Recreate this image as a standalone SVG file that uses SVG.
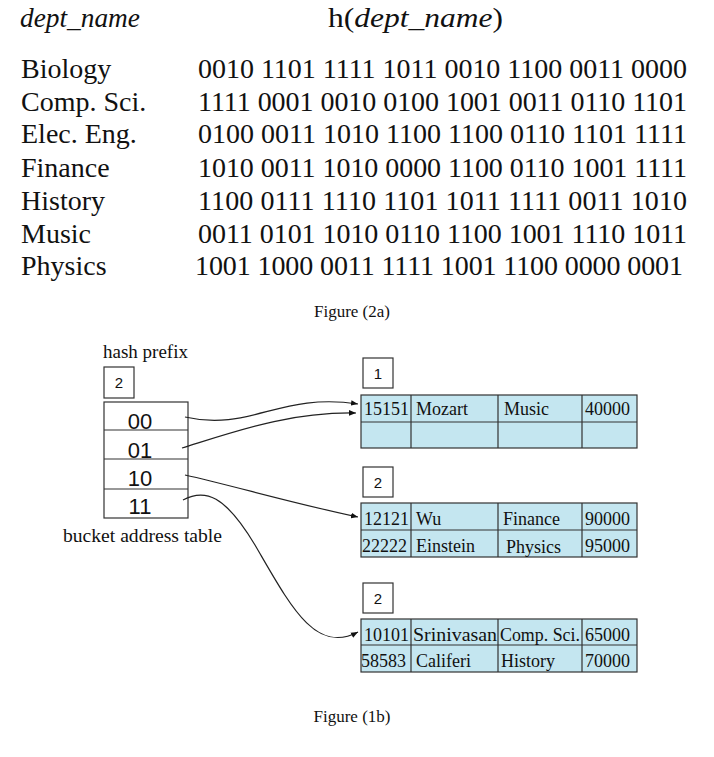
<svg xmlns="http://www.w3.org/2000/svg" width="714" height="757" viewBox="0 0 714 757">
<style>
.serif{font-family:"Liberation Serif","Times New Roman",serif;fill:#111}
.sans{font-family:"Liberation Sans",Arial,sans-serif;fill:#111}
.big{font-size:28px}
.bin{font-size:28px}
.cell{font-size:18px}
.lbl{font-size:18px}
.box{fill:#fff;stroke:#333;stroke-width:1.2}
.tbl{fill:#c4e6f0;stroke:#333;stroke-width:1.2}
.grid{stroke:#333;stroke-width:1.2;fill:none}
.conn{fill:none;stroke:#222;stroke-width:1.2}
</style>
<defs>
<marker id="ah" viewBox="0 0 10 10" refX="10" refY="5" markerWidth="7" markerHeight="7" orient="auto" markerUnits="userSpaceOnUse">
<path d="M0,1 L10,5 L0,9 z" fill="#111"/>
</marker>
</defs>
<rect width="714" height="757" fill="#fff"/>

<g id="fig2a">
<text class="serif big" x="20" y="27" font-style="italic" textLength="120" lengthAdjust="spacingAndGlyphs">dept_name</text>
<text class="serif big" x="328" y="27" textLength="175" lengthAdjust="spacingAndGlyphs">h(<tspan font-style="italic">dept_name</tspan>)</text>
<text class="serif big" x="21" y="78">Biology</text>
<text class="serif big" x="21" y="111">Comp. Sci.</text>
<text class="serif big" x="21" y="143">Elec. Eng.</text>
<text class="serif big" x="21" y="177">Finance</text>
<text class="serif big" x="21" y="210">History</text>
<text class="serif big" x="21" y="243">Music</text>
<text class="serif big" x="21" y="275">Physics</text>
<text class="serif bin" x="198" y="78" textLength="489">0010 1101 1111 1011 0010 1100 0011 0000</text>
<text class="serif bin" x="198" y="111" textLength="489">1111 0001 0010 0100 1001 0011 0110 1101</text>
<text class="serif bin" x="198" y="143" textLength="489">0100 0011 1010 1100 1100 0110 1101 1111</text>
<text class="serif bin" x="198" y="177" textLength="489">1010 0011 1010 0000 1100 0110 1001 1111</text>
<text class="serif bin" x="198" y="210" textLength="489">1100 0111 1110 1101 1011 1111 0011 1010</text>
<text class="serif bin" x="198" y="243" textLength="489">0011 0101 1010 0110 1100 1001 1110 1011</text>
<text class="serif bin" x="195" y="275" textLength="488">1001 1000 0011 1111 1001 1100 0000 0001</text>
<text class="serif" x="352" y="317" font-size="17" text-anchor="middle">Figure (2a)</text>
</g>

<g id="hash-table">
<text class="serif lbl" x="103" y="358" textLength="85" lengthAdjust="spacingAndGlyphs">hash prefix</text>
<rect class="box" x="104" y="367" width="30" height="31"/>
<text class="sans" x="119" y="388" font-size="15" text-anchor="middle">2</text>
<rect class="box" x="104" y="402" width="84" height="116"/>
<line class="grid" x1="104" y1="430" x2="188" y2="430"/>
<line class="grid" x1="104" y1="459" x2="188" y2="459"/>
<line class="grid" x1="104" y1="489" x2="188" y2="489"/>
<text class="sans" x="140" y="429" font-size="22" text-anchor="middle">00</text>
<text class="sans" x="140" y="458" font-size="22" text-anchor="middle">01</text>
<text class="sans" x="140" y="486" font-size="22" text-anchor="middle">10</text>
<text class="sans" x="140" y="514" font-size="22" text-anchor="middle">11</text>
<text class="serif lbl" x="63" y="542" textLength="159" lengthAdjust="spacingAndGlyphs">bucket address table</text>
</g>

<g id="bucket1">
<rect class="box" x="363" y="358" width="30" height="30"/>
<text class="sans" x="378" y="379" font-size="15" text-anchor="middle">1</text>
<rect class="tbl" x="361" y="395" width="276" height="53"/>
<path class="grid" d="M361,422 H637 M411,395 V448 M498,395 V448 M582,395 V448"/>
<text class="serif cell" x="364" y="415">15151</text>
<text class="serif cell" x="416" y="415">Mozart</text>
<text class="serif cell" x="504" y="415">Music</text>
<text class="serif cell" x="585" y="415">40000</text>
</g>

<g id="bucket2">
<rect class="box" x="363" y="467" width="30" height="30"/>
<text class="sans" x="378" y="488" font-size="15" text-anchor="middle">2</text>
<rect class="tbl" x="361" y="503" width="276" height="54"/>
<path class="grid" d="M361,530 H637 M411,503 V557 M498,503 V557 M582,503 V557"/>
<text class="serif cell" x="364" y="525">12121</text>
<text class="serif cell" x="416" y="525">Wu</text>
<text class="serif cell" x="503" y="525">Finance</text>
<text class="serif cell" x="585" y="525">90000</text>
<text class="serif cell" x="362" y="552">22222</text>
<text class="serif cell" x="416" y="552">Einstein</text>
<text class="serif cell" x="506" y="553">Physics</text>
<text class="serif cell" x="585" y="552">95000</text>
</g>

<g id="bucket3">
<rect class="box" x="363" y="583" width="30" height="30"/>
<text class="sans" x="378" y="604" font-size="15" text-anchor="middle">2</text>
<rect class="tbl" x="361" y="619" width="276" height="53"/>
<path class="grid" d="M361,645 H637 M411,619 V672 M498,619 V672 M582,619 V672"/>
<text class="serif cell" x="364" y="641">10101</text>
<text class="serif cell" x="413" y="641" textLength="84" lengthAdjust="spacingAndGlyphs">Srinivasan</text>
<text class="serif cell" x="500" y="641" textLength="80" lengthAdjust="spacingAndGlyphs">Comp. Sci.</text>
<text class="serif cell" x="585" y="641">65000</text>
<text class="serif cell" x="361" y="667">58583</text>
<text class="serif cell" x="416" y="667">Califeri</text>
<text class="serif cell" x="501" y="667">History</text>
<text class="serif cell" x="585" y="667">70000</text>
</g>

<g id="connectors">
<path class="conn" marker-end="url(#ah)" d="M185,417 C250,432 280,392 358,404"/>
<path class="conn" marker-end="url(#ah)" d="M182,448 C240,430 290,412 356,413"/>
<path class="conn" marker-end="url(#ah)" d="M185,475 C230,485 300,505 358,517"/>
<path class="conn" marker-end="url(#ah)" d="M183,500 C205,488 225,495 255,545 C290,605 315,655 358,632"/>
</g>

<text class="serif" x="352" y="722" font-size="17" text-anchor="middle">Figure (1b)</text>
</svg>
